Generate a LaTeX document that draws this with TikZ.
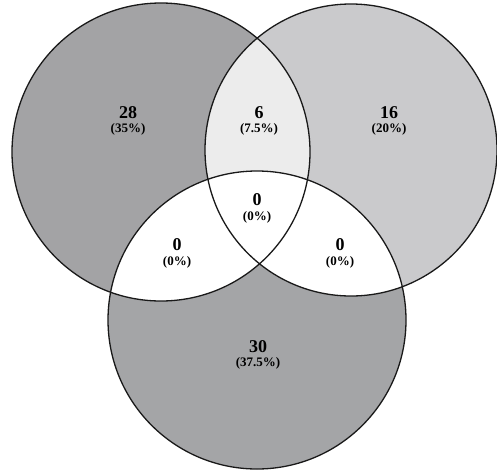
\documentclass[tikz,border=0pt]{standalone}
\usepackage{fontspec}
\setmainfont{Liberation Serif}
\definecolor{setA}{HTML}{A3A3A5}
\definecolor{setB}{HTML}{CACACC}
\definecolor{setC}{HTML}{A4A5A7}
\definecolor{setAB}{HTML}{ECECEC}

\begin{document}
\begin{tikzpicture}[
  x=1pt,
  y=-1pt,
  num/.style={font=\fontsize{18}{18}\selectfont\bfseries, inner sep=0pt},
  pct/.style={font=\fontsize{13}{13}\selectfont\bfseries, inner sep=0pt},
  outline/.style={draw=black!90, line width=1.3pt}
]
\useasboundingbox (0,0) rectangle (497,474);
\coordinate (cA) at (161,152);
\coordinate (cB) at (351,150);
\coordinate (cC) at (257,320);

% set fills
\fill[setA] (cA) circle[radius=149];
\fill[setB] (cB) circle[radius=146];
\fill[setC] (cC) circle[radius=149];
\begin{scope}
  \clip (cA) circle[radius=149];
  \fill[setAB] (cB) circle[radius=146];
\end{scope}
\begin{scope}
  \clip (cC) circle[radius=149];
  \fill[white] (cA) circle[radius=149];
  \fill[white] (cB) circle[radius=146];
\end{scope}

% outlines
\draw[outline] (cA) circle[radius=149];
\draw[outline] (cB) circle[radius=146];
\draw[outline] (cC) circle[radius=149];

% counts
\node[num] (nA) at (128,113) {28};
\node[pct] (pA) at (128,129) {(35\%)};
\node[num] (nAB) at (259,113) {6};
\node[pct] (pAB) at (259,129) {(7.5\%)};
\node[num] (nB) at (389,113) {16};
\node[pct] (pB) at (389,129) {(20\%)};
\node[num] (nABC) at (257,200) {0};
\node[pct] (pABC) at (257,217) {(0\%)};
\node[num] (nAC) at (177,245) {0};
\node[pct] (pAC) at (177,262) {(0\%)};
\node[num] (nBC) at (340,245) {0};
\node[pct] (pBC) at (340,262) {(0\%)};
\node[num] (nC) at (258,347) {30};
\node[pct] (pC) at (258,363) {(37.5\%)};
\end{tikzpicture}
\end{document}
